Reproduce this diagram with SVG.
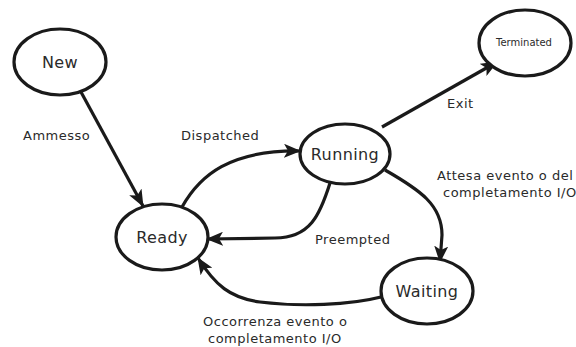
<svg xmlns="http://www.w3.org/2000/svg" width="576" height="347" viewBox="0 0 576 347">
<style>
.node ellipse{fill:#fff;stroke:#1a1a1a;stroke-width:3.2}
.node text{font-family:"DejaVu Sans",Verdana,sans-serif;fill:#2a2a2a;text-anchor:middle}
.big{font-size:16px;letter-spacing:0.4px}
.edges path{fill:none;stroke:#1a1a1a;stroke-width:3.2;marker-end:url(#arr)}
.lbl{font-family:"DejaVu Sans",Verdana,sans-serif;font-size:13px;letter-spacing:0.5px;fill:#2a2a2a}
</style>
<defs>
<marker id="arr" markerUnits="userSpaceOnUse" markerWidth="18" markerHeight="14" refX="16" refY="7" orient="auto">
<path d="M0,0 L17,7 L0,14 L4,7 Z" fill="#1a1a1a"/>
</marker>
</defs>
<rect width="576" height="347" fill="#fff"/>
<g class="edges">
<path d="M81,92 L143,206"/>
<path d="M182,207 C200,175 230,150 300,151"/>
<path d="M330,183 C320,215 310,238 275,238 L207,239"/>
<path d="M382,127 L497,62"/>
<path d="M385,170 C420,190 442,205 442,235 L440,262"/>
<path d="M381,297 C350,305 300,307 260,302 C230,298 215,285 198,258"/>
</g>
<g id="new" class="node"><ellipse cx="60" cy="62" rx="46" ry="33"/><text x="60" y="68" class="big">New</text></g>
<g id="ready" class="node"><ellipse cx="162" cy="237" rx="46" ry="33"/><text x="162" y="243" class="big">Ready</text></g>
<g id="running" class="node"><ellipse cx="345" cy="154" rx="45" ry="30"/><text x="345" y="160" class="big">Running</text></g>
<g id="terminated" class="node"><ellipse cx="525" cy="43" rx="46" ry="33"/><text x="524" y="46" font-size="10">Terminated</text></g>
<g id="waiting" class="node"><ellipse cx="427" cy="291" rx="46" ry="33"/><text x="427" y="297" class="big">Waiting</text></g>
<g id="labels">
<text class="lbl" x="23" y="140">Ammesso</text>
<text class="lbl" x="181" y="140">Dispatched</text>
<text class="lbl" x="447" y="108">Exit</text>
<text class="lbl" x="437" y="180">Attesa evento o del</text>
<text class="lbl" x="443" y="197">completamento I/O</text>
<text class="lbl" x="315" y="244">Preempted</text>
<text class="lbl" x="203" y="326">Occorrenza evento o</text>
<text class="lbl" x="208" y="343">completamento I/O</text>
</g>
</svg>
